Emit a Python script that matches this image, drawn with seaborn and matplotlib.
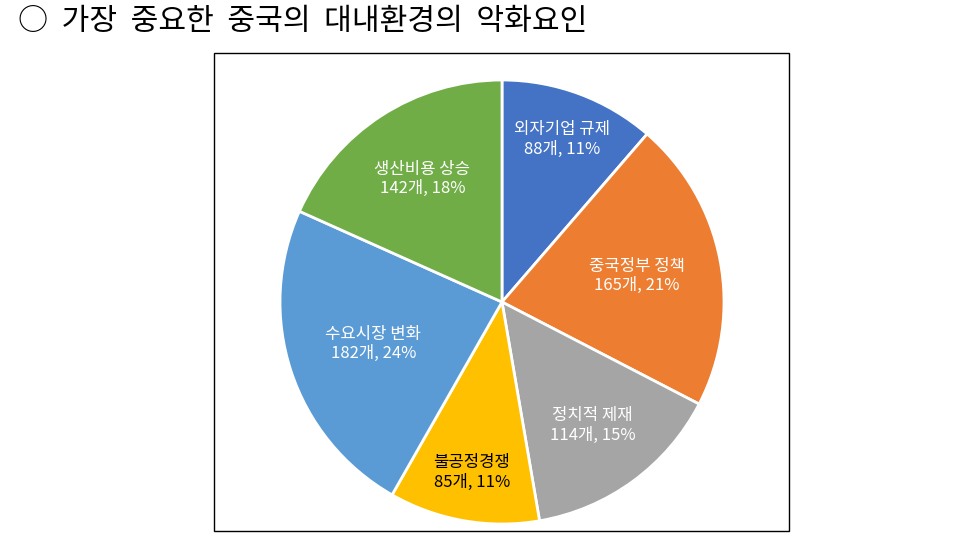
import matplotlib
matplotlib.use("Agg")
import matplotlib.pyplot as plt
import seaborn as sns
import numpy as np
from matplotlib.patches import Rectangle

categories = ["외자기업 규제", "중국정부 정책", "정치적 제재", "불공정경쟁", "수요시장 변화", "생산비용 상승"]
counts = [88, 165, 114, 85, 182, 142]
colors = ["#4472C4", "#ED7D31", "#A5A5A5", "#FFC000", "#5B9BD5", "#70AD47"]
text_colors = ["white", "white", "white", "black", "white", "white"]
title = "○  가장  중요한  중국의  대내환경의  악화요인"

sns.set_theme(style="white")
plt.rcParams['font.family'] = ['Noto Sans CJK KR', 'DejaVu Sans']

W, H = 962, 556
fig = plt.figure(figsize=(W / 100, H / 100), dpi=100)

# frame box
fig.patches.append(Rectangle((214 / W, 1 - 531 / H), (789 - 214) / W, (531 - 53) / H,
                             transform=fig.transFigure, fill=False, edgecolor="black",
                             linewidth=1.0, zorder=0))

cx, cy, r = 502, 302, 222
ax = fig.add_axes([(cx - r) / W, 1 - (cy + r) / H, 2 * r / W, 2 * r / H])
wedges, _ = ax.pie(counts, colors=sns.color_palette(colors), startangle=90, counterclock=False,
                   wedgeprops=dict(edgecolor="white", linewidth=2))
ax.set_xlim(-1, 1)
ax.set_ylim(-1, 1)
ax.set_aspect("auto")
ax.axis("off")

# percentages rounded to sum to 100 (largest remainder)
total = sum(counts)
raw = np.array(counts) / total * 100
pcts = np.floor(raw).astype(int)
rem = 100 - pcts.sum()
for i in np.argsort(-(raw - pcts))[:rem]:
    pcts[i] += 1

label_dist = [0.78, 0.62, 0.69, 0.78, 0.61, 0.66]
for w, cat, n, p, tc, d in zip(wedges, categories, counts, pcts, text_colors, label_dist):
    ang = np.deg2rad((w.theta1 + w.theta2) / 2)
    ax.text(d * np.cos(ang), d * np.sin(ang), f"{cat}\n{n}개, {p}%", ha="center", va="center",
            color=tc, fontsize=12, linespacing=1.2)

fig.text(18 / W, 1 - 22 / H, title, ha="left", va="center", fontsize=21.7, color="black")

fig.savefig("out.png", dpi=100)
